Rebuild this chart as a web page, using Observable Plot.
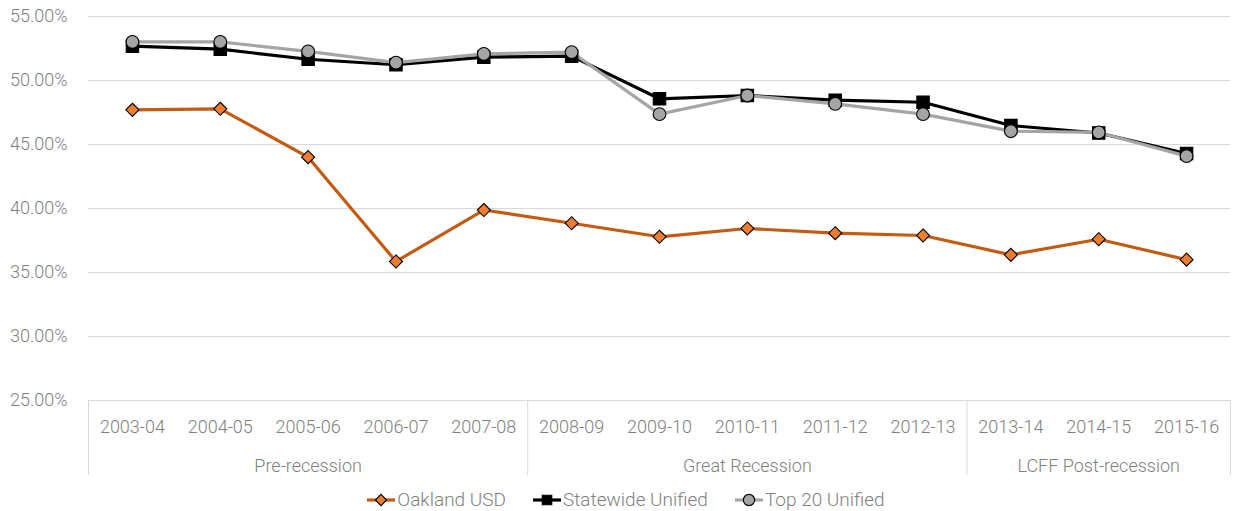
<!DOCTYPE html>
<html>
<head>
<meta charset="utf-8">
<script src="https://cdn.jsdelivr.net/npm/d3@7"></script>
<script src="https://cdn.jsdelivr.net/npm/@observablehq/plot@0.6"></script>
<style>
  html, body { margin: 0; padding: 0; background: #fff; }
  body { width: 1237px; height: 511px; overflow: hidden; font-family: Roboto, sans-serif; }
  #legend { display: flex; justify-content: center; align-items: center; height: 31px; margin-top: 4px; font-family: Roboto, sans-serif; font-weight: 300; font-size: 19px; color: #7f7f7f; padding-left: 14px; }
  .item { display: flex; align-items: center; margin: 0 13px; }
  .item svg { margin-right: 1px; }
</style>
</head>
<body>
<div id="chart"></div>
<div id="legend"></div>
<script>
const years = ["2003-04","2004-05","2005-06","2006-07","2007-08","2008-09","2009-10","2010-11","2011-12","2012-13","2013-14","2014-15","2015-16"];
const oakland =   [47.71, 47.79, 44.01, 35.86, 39.88, 38.85, 37.79, 38.44, 38.07, 37.89, 36.38, 37.60, 36.00];
const statewide = [52.68, 52.45, 51.66, 51.23, 51.82, 51.90, 48.57, 48.83, 48.46, 48.30, 46.48, 45.90, 44.30];
const top20 =     [53.02, 53.02, 52.27, 51.40, 52.08, 52.21, 47.37, 48.83, 48.18, 47.37, 46.04, 45.94, 44.09];
const groupNames = ["Pre-recession", "Great Recession", "LCFF Post-recession"];
const groupStarts = ["2003-04", "2008-09", "2013-14"];
const groupMids = ["2005-06", "2010-11", "2014-15"];
const yTicks = [25, 30, 35, 40, 45, 50, 55];

const seriesNames = ["Oakland USD", "Statewide Unified", "Top 20 Unified"];
const seriesValues = [oakland, statewide, top20];
const seriesStyle = {
  "Oakland USD": {line: "#C55A11", fill: "#ED7D31", symbol: "diamond2", r: 5.9},
  "Statewide Unified": {line: "#000000", fill: "#000000", symbol: "square", r: 7.0},
  "Top 20 Unified": {line: "#A5A5A5", fill: "#A5A5A5", symbol: "circle", r: 6.4}
};

const W = 1237, H = 480, ML = 88, MR = 7, MT = 16, MB = 80;
const bw = (W - ML - MR) / years.length;
const font = "Roboto, sans-serif";

const marks = [
  Plot.ruleY(yTicks, {y: d => d, stroke: "#d9d9d9", strokeWidth: 1}),
  Plot.ruleX(groupStarts, {x: d => d, dx: -bw / 2, stroke: "#d9d9d9", insetTop: H - MB - MT, insetBottom: -75}),
  Plot.ruleX([years[years.length - 1]], {x: d => d, dx: bw / 2, stroke: "#d9d9d9", insetTop: H - MB - MT, insetBottom: -75})
];

seriesNames.forEach((name, i) => {
  const data = years.map((y, j) => ({year: y, value: seriesValues[i][j]}));
  const s = seriesStyle[name];
  marks.push(Plot.line(data, {x: "year", y: "value", stroke: s.line, strokeWidth: 3.2, curve: "linear"}));
});
seriesNames.forEach((name, i) => {
  const data = years.map((y, j) => ({year: y, value: seriesValues[i][j]}));
  const s = seriesStyle[name];
  marks.push(Plot.dot(data, {x: "year", y: "value", symbol: s.symbol, r: s.r, fill: s.fill, stroke: "#000", strokeWidth: 1.1}));
});

marks.push(Plot.text(years, {x: d => d, frameAnchor: "bottom", dy: 32, text: d => d, fill: "#7f7f7f", fontSize: 18, fontWeight: 300}));
marks.push(Plot.text(groupNames, {x: (d, i) => groupMids[i], frameAnchor: "bottom", dy: 71, text: d => d, fill: "#7f7f7f", fontSize: 18, fontWeight: 300}));
marks.push(Plot.text(yTicks, {y: d => d, frameAnchor: "left", dx: -21, textAnchor: "end", text: d => d.toFixed(2) + "%", fill: "#7f7f7f", fontSize: 18, fontWeight: 300}));

const chart = Plot.plot({
  width: W, height: H,
  marginLeft: ML, marginRight: MR, marginTop: MT, marginBottom: MB,
  style: {fontFamily: font, background: "#fff", overflow: "visible"},
  x: {type: "band", domain: years, padding: 0, round: false, axis: null},
  y: {domain: [25, 55], axis: null},
  marks
});
document.getElementById("chart").appendChild(chart);

// legend
const legend = document.getElementById("legend");
seriesNames.forEach(name => {
  const s = seriesStyle[name];
  const item = document.createElement("div");
  item.className = "item";
  const sw = d3.create("svg").attr("width", 30).attr("height", 20);
  sw.append("line").attr("x1", 1).attr("x2", 29).attr("y1", 10).attr("y2", 10).attr("stroke", s.line).attr("stroke-width", 3.2);
  const sym = {diamond2: d3.symbolDiamond2, square: d3.symbolSquare, circle: d3.symbolCircle}[s.symbol];
  const area = {diamond2: 80, square: 90, circle: 100}[s.symbol];
  sw.append("path").attr("transform", "translate(15,10)").attr("d", d3.symbol(sym, area)()).attr("fill", s.fill).attr("stroke", "#000").attr("stroke-width", 1.1);
  item.appendChild(sw.node());
  const t = document.createElement("span");
  t.textContent = name;
  item.appendChild(t);
  legend.appendChild(item);
});
</script>
</body>
</html>
